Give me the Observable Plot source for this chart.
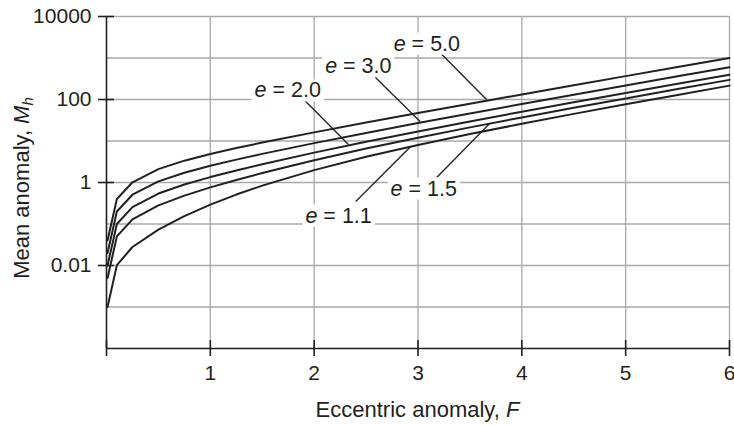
<!DOCTYPE html>
<html>
<head>
<meta charset="utf-8">
<script src="https://cdn.jsdelivr.net/npm/d3@7"></script>
<script src="https://cdn.jsdelivr.net/npm/@observablehq/plot@0.6"></script>
<style>
  html, body { margin: 0; padding: 0; background: #ffffff; }
  #chart { width: 734px; height: 425px; }
</style>
</head>
<body>
<div id="chart"></div>
<script>
// ---- Data ----
const F = [0.01, 0.1, 0.25, 0.5, 0.75, 1, 1.25, 1.5, 2, 2.5, 3, 3.5, 4, 4.5, 5, 5.5, 6];
const eValues = [1.1, 1.5, 2.0, 3.0, 5.0];
const eLabels = ["1.1", "1.5", "2.0", "3.0", "5.0"];
const M_e11 = [0.001, 0.0102, 0.0279, 0.0732, 0.1545, 0.293, 0.512, 0.842, 1.99, 4.16, 8.02, 14.7, 26.0, 45.0, 76.6, 129, 216];
const M_e15 = [0.005, 0.0503, 0.129, 0.282, 0.483, 0.763, 1.15, 1.69, 3.44, 6.58, 12.0, 21.3, 36.9, 63.0, 106, 178, 297];
const M_e20 = [0.01, 0.1003, 0.255, 0.542, 0.895, 1.35, 1.95, 2.76, 5.25, 9.60, 17.0, 29.6, 50.6, 85.5, 143, 239, 397];
const M_e30 = [0.02, 0.2005, 0.508, 1.063, 1.717, 2.53, 3.56, 4.89, 8.88, 15.65, 27.05, 46.1, 77.9, 130.5, 218, 362, 599];
const M_e50 = [0.04, 0.401, 1.013, 2.105, 3.36, 4.88, 6.76, 9.15, 16.13, 27.75, 47.1, 79.2, 132.4, 220.5, 366, 606, 1003];
const seriesM = [M_e11, M_e15, M_e20, M_e30, M_e50];

// label anchors and leader lines (data coordinates), same order as eValues
const labelF  = [2.24, 3.06, 1.75, 2.43, 3.09];
const labelM  = [0.160, 0.716, 165, 659, 2234];
const leaderF1 = [2.40, 3.18, 1.91, 2.59, 3.23];
const leaderM1 = [0.348, 1.32, 94.6, 339, 1213];
const leaderF2 = [2.93, 3.69, 2.33, 3.02, 3.66];
const leaderM2 = [7.36, 26.4, 8.24, 29.5, 100];

const xTicks = [0, 1, 2, 3, 4, 5, 6];
const xTickLabels = ["", "1", "2", "3", "4", "5", "6"];
const yTicks = [10000, 100, 1, 0.01];
const yTickLabels = ["10000", "100", "1", "0.01"];
const yGrid = [10000, 1000, 100, 10, 1, 0.1, 0.01, 0.001];
const xGrid = [1, 2, 3, 4, 5, 6];

// ---- Tables built from the arrays ----
const rows = eValues.flatMap((e, i) => F.map((f, j) => ({e, F: f, M: seriesM[i][j]})));
const leaders = eValues.map((e, i) => ({e, F1: leaderF1[i], M1: leaderM1[i], F2: leaderF2[i], M2: leaderM2[i]}));
const labels = eValues.map((e, i) => ({e, txt: eLabels[i], F: labelF[i], M: labelM[i]}));

const ink = "#231f20";
const grid = "#a9a9a9";
const font = "'Liberation Sans', Arial, Helvetica, sans-serif";

const plot = Plot.plot({
  width: 734,
  height: 425,
  marginLeft: 106,
  marginRight: 5,
  marginTop: 16,
  marginBottom: 77,
  style: {fontFamily: font, fontSize: "21px", color: ink, background: "#ffffff", overflow: "visible"},
  x: {domain: [0, 6]},
  y: {type: "log", domain: [1e-4, 1e4]},
  marks: [
    Plot.ruleY(yGrid, {stroke: grid, strokeWidth: 1.3}),
    Plot.ruleX(xGrid, {stroke: grid, strokeWidth: 1.3}),
    Plot.ruleX([0], {stroke: ink, strokeWidth: 1.6}),
    Plot.ruleY([1e-4], {stroke: ink, strokeWidth: 1.6}),
    Plot.axisX({ticks: xTicks, tickSize: 16, dy: -8, tickFormat: () => "", label: null, stroke: ink, strokeWidth: 1.6}),
    Plot.axisX({ticks: xTicks, tickSize: 0, tickPadding: 17, tickFormat: d => xTickLabels[xTicks.indexOf(d)], label: null, fontSize: 21, fill: ink}),
    Plot.axisY({ticks: yTicks, tickSize: 16, dx: 8, tickFormat: () => "", label: null, stroke: ink, strokeWidth: 1.6}),
    Plot.axisY({ticks: yTicks, tickSize: 0, tickPadding: 15, tickFormat: d => yTickLabels[yTicks.indexOf(d)], label: null, fontSize: 21, fill: ink}),
    Plot.link(leaders, {x1: "F1", y1: "M1", x2: "F2", y2: "M2", stroke: ink, strokeWidth: 1.3}),
    Plot.line(rows, {x: "F", y: "M", z: "e", stroke: ink, strokeWidth: 2, curve: "linear"})
  ]
});

document.getElementById("chart").appendChild(plot);

// ---- Curve labels (italic e) placed through Plot's scales, with white boxes ----
const sx = plot.scale("x"), sy = plot.scale("y");
const svg = d3.select(plot);
const lg = svg.append("g").attr("font-family", font).attr("font-size", 21.5).attr("fill", ink);
labels.forEach(d => {
  const box = lg.append("rect").attr("fill", "#ffffff");
  const t = lg.append("text")
    .attr("x", sx.apply(d.F))
    .attr("y", sy.apply(d.M))
    .attr("dy", "0.35em")
    .attr("text-anchor", "middle");
  t.append("tspan").attr("font-style", "italic").text("e");
  t.append("tspan").text(" = " + d.txt);
  const bb = t.node().getBBox();
  box.attr("x", bb.x - 3).attr("y", bb.y + 1).attr("width", bb.width + 6).attr("height", bb.height - 2);
});

// ---- Axis titles ----
const tg = svg.append("g").attr("font-family", font).attr("font-size", 22).attr("fill", ink);
const xt = tg.append("text")
  .attr("x", (106 + 729) / 2)
  .attr("y", 409)
  .attr("dy", "0.35em")
  .attr("text-anchor", "middle");
xt.append("tspan").text("Eccentric anomaly, ");
xt.append("tspan").attr("font-style", "italic").text("F");

const yt = tg.append("text")
  .attr("transform", "translate(21,188) rotate(-90)")
  .attr("dy", "0.35em")
  .attr("text-anchor", "middle");
yt.append("tspan").text("Mean anomaly, ");
yt.append("tspan").attr("font-style", "italic").text("M");
yt.append("tspan").attr("font-style", "italic").attr("font-size", 15).attr("dy", "0.3em").text("h");
</script>
</body>
</html>
